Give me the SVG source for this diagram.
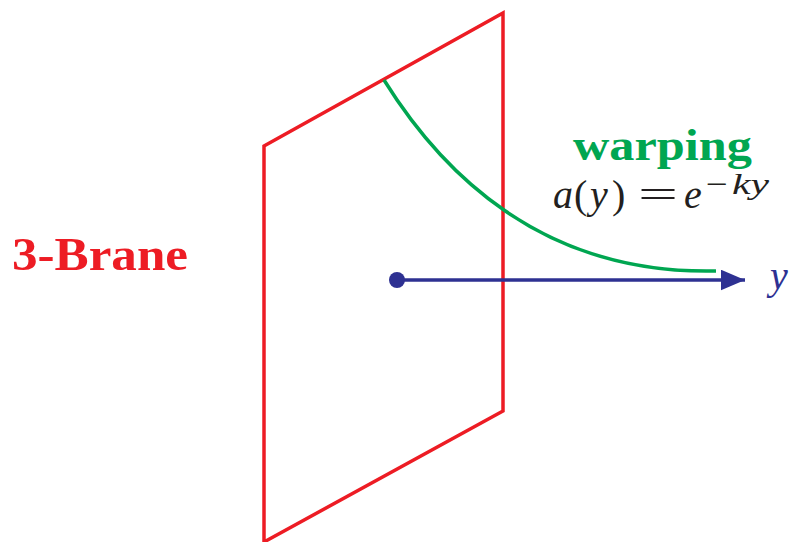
<svg xmlns="http://www.w3.org/2000/svg" width="789" height="542" viewBox="0 0 789 542">
<style>
.serif{font-family:"Liberation Serif","DejaVu Serif",serif}
.f{font-size:40px;fill:#231f20}
.s{font-size:30px;fill:#231f20}
.i{font-style:italic}
</style>
<defs>
<marker id="ah" markerWidth="8" markerHeight="6" refX="7" refY="3" orient="auto" markerUnits="strokeWidth">
<path d="M0,0 L7,3 L0,6 Z" fill="#2e3192"/>
</marker>
</defs>
<rect width="789" height="542" fill="#fff"/>
<g id="brane">
<path d="M264,542 L264,146 L503,13 L503,411 L264,542" fill="none" stroke="#ed1c24" stroke-width="3.5" stroke-linejoin="miter"/>
<text class="serif" x="12" y="270" font-size="46" font-weight="bold" fill="#ed1c24" textLength="176" lengthAdjust="spacingAndGlyphs">3-Brane</text>
</g>
<g id="connectors">
<path d="M384,80 C440,170 540,275 716,271" fill="none" stroke="#00a651" stroke-width="3.5"/>
<line x1="397" y1="280" x2="745" y2="280" stroke="#2e3192" stroke-width="3.5" marker-end="url(#ah)"/>
<circle cx="397" cy="280" r="8" fill="#2e3192"/>
</g>
<g id="axis-label">
<text class="serif i" x="770" y="289" font-size="40" fill="#2e3192">y</text>
</g>
<g id="warping">
<text class="serif" x="573" y="160" font-size="44" font-weight="bold" fill="#00a651" textLength="179" lengthAdjust="spacingAndGlyphs">warping</text>
<text class="serif f i" x="553" y="208">a</text>
<text class="serif f" x="574" y="208">(</text>
<text class="serif f i" x="590" y="208">y</text>
<text class="serif f" x="612" y="208">)</text>
<text class="serif f" x="638" y="208" textLength="40" lengthAdjust="spacingAndGlyphs">=</text>
<text class="serif f i" x="684" y="208">e</text>
<text class="serif s" x="706" y="194" textLength="22" lengthAdjust="spacingAndGlyphs">−</text>
<text class="serif s i" x="732" y="194" textLength="37" lengthAdjust="spacingAndGlyphs">ky</text>
</g>
</svg>
